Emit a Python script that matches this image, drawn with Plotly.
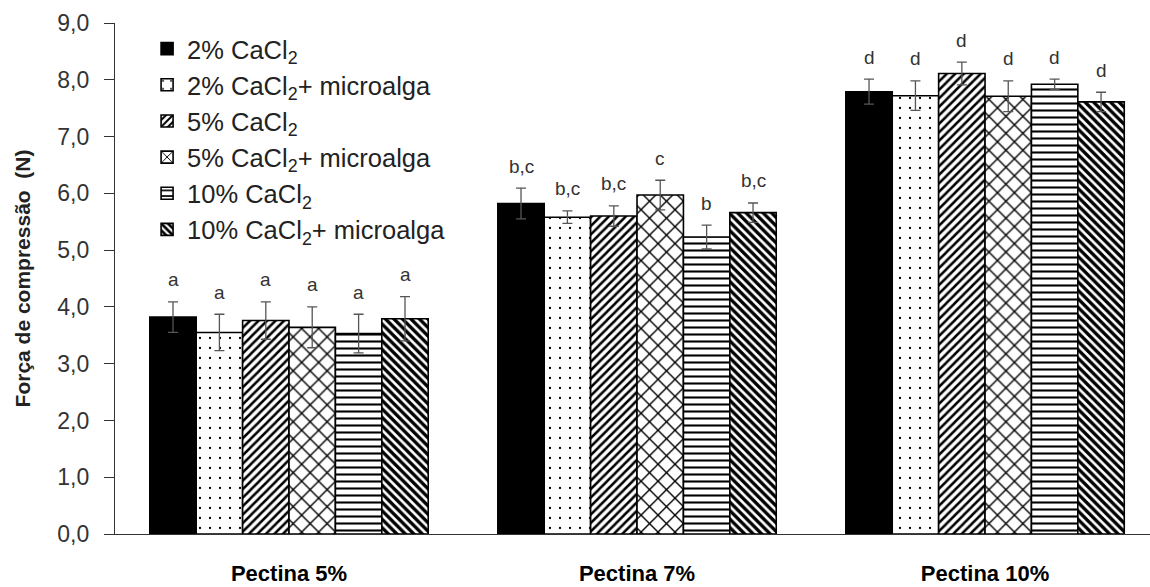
import plotly.graph_objects as go

categories = ["Pectina 5%", "Pectina 7%", "Pectina 10%"]
series_names = [
    "2% CaCl<sub>2</sub>",
    "2% CaCl<sub>2</sub>+ microalga",
    "5% CaCl<sub>2</sub>",
    "5% CaCl<sub>2</sub>+ microalga",
    "10% CaCl<sub>2</sub>",
    "10% CaCl<sub>2</sub>+ microalga",
]
values = [
    [3.82, 5.82, 7.79],
    [3.55, 5.58, 7.72],
    [3.76, 5.60, 8.11],
    [3.64, 5.97, 7.71],
    [3.53, 5.23, 7.92],
    [3.79, 5.66, 7.61],
]
errors = [
    [0.27, 0.27, 0.22],
    [0.32, 0.11, 0.26],
    [0.33, 0.18, 0.20],
    [0.36, 0.26, 0.27],
    [0.34, 0.21, 0.09],
    [0.39, 0.17, 0.17],
]
letters = [
    ["a", "b,c", "d"],
    ["a", "b,c", "d"],
    ["a", "b,c", "d"],
    ["a", "c", "d"],
    ["a", "b", "d"],
    ["a", "b,c", "d"],
]
y_ticks = [0, 1, 2, 3, 4, 5, 6, 7, 8, 9]

patterns = [
    dict(shape="", fillmode="replace"),
    dict(shape=".", fgcolor="black", bgcolor="white", size=10, solidity=0.04, fgopacity=1),
    dict(shape="/", fgcolor="black", bgcolor="white", size=6, solidity=0.42, fgopacity=1),
    dict(shape="x", fgcolor="black", bgcolor="white", size=12, solidity=0.22, fgopacity=1),
    dict(shape="-", fgcolor="black", bgcolor="white", size=7, solidity=0.3, fgopacity=1),
    dict(shape="\\", fgcolor="black", bgcolor="white", size=6, solidity=0.56, fgopacity=1),
]
colors = ["black", "white", "white", "white", "white", "white"]

xpos = list(range(len(categories)))
bargap = 0.2
nser = len(series_names)
bw = (1 - bargap) / nser

FONT = "Liberation Sans, Arial"

fig = go.Figure()
for i, name in enumerate(series_names):
    fig.add_trace(go.Bar(
        x=xpos, y=values[i], name=name, legendgroup=f"g{i}",
        marker=dict(color=colors[i], pattern=patterns[i],
                    line=dict(color="black", width=1.6)),
        error_y=dict(type="data", array=errors[i], color="#555555",
                     thickness=1.3, width=5),
    ))

annotations = []
for i in range(nser):
    for j in range(len(categories)):
        annotations.append(dict(
            x=xpos[j] + (i - (nser - 1) / 2) * bw,
            y=values[i][j] + errors[i][j],
            xref="x", yref="y", text=letters[i][j], showarrow=False,
            yanchor="middle", yshift=22,
            font=dict(family=FONT, size=19, color="#333333"),
        ))

fig.update_layout(
    width=1150, height=587,
    margin=dict(l=115, r=0, t=23, b=53),
    paper_bgcolor="white", plot_bgcolor="white",
    barmode="group", bargap=bargap, bargroupgap=0,
    separators=",.",
    font=dict(family=FONT, color="#333333"),
    showlegend=True,
    legend=dict(x=0.031, y=0.995, xanchor="left", yanchor="top",
                bgcolor="rgba(255,255,255,0)", tracegroupgap=0,
                font=dict(size=25.5, color="#222222"), itemwidth=30),
    annotations=annotations,
    xaxis=dict(range=[-0.5, 2.474], tickvals=xpos, ticktext=categories,
               showline=True, linecolor="#333333", linewidth=1.3,
               ticks="", showgrid=False, zeroline=False, automargin=False,
               ticklabelstandoff=19,
               tickfont=dict(size=22, color="black", family=FONT, weight="bold")),
    yaxis=dict(range=[0, 9], tickvals=y_ticks, tickformat=".1f",
               showline=True, linecolor="#333333", linewidth=1.3,
               ticks="outside", ticklen=10, tickcolor="#333333",
               showgrid=False, zeroline=False, ticklabelstandoff=10,
               automargin=False,
               tickfont=dict(size=23, color="#333333"),
               title=dict(text="Força de compressão  (N)", standoff=20,
                          font=dict(size=21, color="#222222", family=FONT, weight="bold"))),
)
fig.write_html("out.html")
